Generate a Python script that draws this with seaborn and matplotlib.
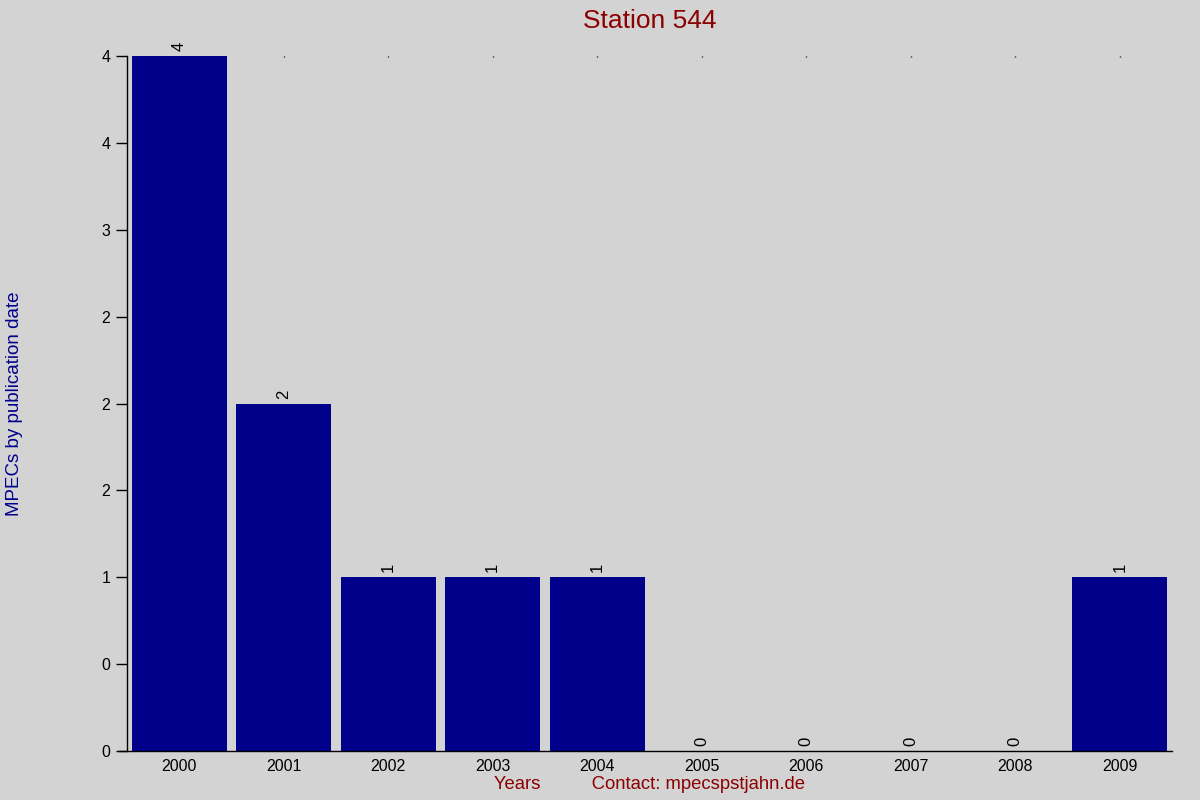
import matplotlib
matplotlib.use("Agg")
import matplotlib.pyplot as plt
import seaborn as sns
import pandas as pd

years = ["2000", "2001", "2002", "2003", "2004", "2005", "2006", "2007", "2008", "2009"]
counts = [4, 2, 1, 1, 1, 0, 0, 0, 0, 1]
ytick_values = [0, 0.5, 1, 1.5, 2, 2.5, 3, 3.5, 4]
ytick_labels = ["0", "0", "1", "2", "2", "2", "3", "4", "4"]

sns.set_theme(style="white")
plt.rcParams["font.family"] = ["Liberation Sans", "DejaVu Sans"]

df = pd.DataFrame({"year": years, "count": counts})

fig = plt.figure(figsize=(12, 8), dpi=100, facecolor="#d3d3d3")
ax = fig.add_axes([0.1058, 0.06125, 0.8709, 0.86875])
ax.set_facecolor("#d3d3d3")

sns.barplot(data=df, x="year", y="count", color="#00008b", saturation=1,
            width=0.91, ax=ax, edgecolor="none")

ax.set_xlim(-0.5, 9.5)
ax.set_ylim(0, 4)
ax.set_yticks(ytick_values)
ax.set_yticklabels(ytick_labels)

for i, v in enumerate(counts):
    ax.annotate(str(v), (i, v), xytext=(0, 3.5), textcoords="offset points",
                ha="center", va="bottom", rotation=90, fontsize=12, color="black")

for s in ["top", "right"]:
    ax.spines[s].set_visible(False)
for s in ["left", "bottom"]:
    ax.spines[s].set_color("black")
    ax.spines[s].set_linewidth(1)
ax.spines["bottom"].set_bounds(-0.58, 9.5)

ax.tick_params(axis="y", left=True, length=8, width=1, color="black",
               labelsize=11.5, labelcolor="black", pad=4)
ax.tick_params(axis="x", bottom=False, top=True, length=1, width=1,
               direction="in", color="black", labelsize=11.5, labelcolor="black", pad=6)

ax.set_title("Station 544", fontsize=19, color="#8b0000", pad=20)
ax.set_ylabel("MPECs by publication date", fontsize=13.5, color="#00008b", labelpad=0)
ax.yaxis.set_label_coords(-0.099, 0.5)
ax.set_xlabel("Years          Contact: mpecspstjahn.de", fontsize=13.3, color="#8b0000", labelpad=1)

fig.savefig("out.png", dpi=100, facecolor="#d3d3d3")
